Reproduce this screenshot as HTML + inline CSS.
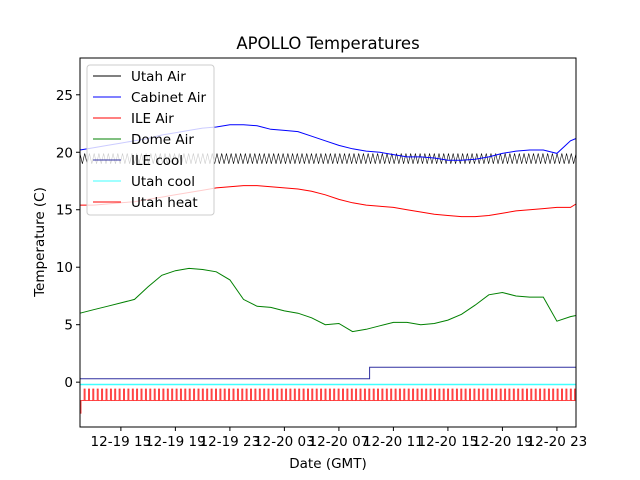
<!DOCTYPE html>
<html><head><meta charset="utf-8"><style>
body{margin:0;background:#fff}
svg{display:block;font-family:"DejaVu Sans","Liberation Sans",sans-serif}
</style></head><body>
<svg id="chart" width="640" height="480" xmlns="http://www.w3.org/2000/svg">
<rect width="640" height="480" fill="#fff"/>
<text x="328" y="49" font-size="16.5" text-anchor="middle">APOLLO Temperatures</text>
<g id="plot"></g>
<g id="axes"></g>
<text x="328" y="468" font-size="13.5" text-anchor="middle">Date (GMT)</text>
<text transform="translate(44,242) rotate(-90)" font-size="13.5" text-anchor="middle">Temperature (C)</text>
<g id="legend"></g>
</svg>
<script>
// hours since 12-19 00:00, one point per hour from 12 to 48, plus end 48.4
const hours = [12,13,14,15,16,17,18,19,20,21,22,23,24,25,26,27,28,29,30,31,32,33,34,35,36,37,38,39,40,41,42,43,44,45,46,47,48,48.4];
const cabinetAir = [20.2,20.4,20.6,20.8,21.0,21.2,21.5,21.7,21.9,22.1,22.2,22.4,22.4,22.3,22.0,21.9,21.8,21.4,21.0,20.6,20.3,20.1,20.0,19.8,19.6,19.6,19.5,19.3,19.3,19.4,19.6,19.9,20.1,20.2,20.2,19.9,21.0,21.2];
const ileAir = [15.4,15.4,15.5,15.6,15.7,15.9,16.1,16.3,16.5,16.7,16.9,17.0,17.1,17.1,17.0,16.9,16.8,16.6,16.3,15.9,15.6,15.4,15.3,15.2,15.0,14.8,14.6,14.5,14.4,14.4,14.5,14.7,14.9,15.0,15.1,15.2,15.2,15.5];
const domeAir = [6.0,6.3,6.6,6.9,7.2,8.3,9.3,9.7,9.9,9.8,9.6,8.9,7.2,6.6,6.5,6.2,6.0,5.6,5.0,5.1,4.4,4.6,4.9,5.2,5.2,5.0,5.1,5.4,5.9,6.7,7.6,7.8,7.5,7.4,7.4,5.3,5.7,5.8];
const utahAirHigh = [19.9];
const utahAirLow = [19.0];
const utahAirCycles = [105];
const ileCoolTimes = [12,33.25,33.25,48.4];
const ileCoolVals = [0.3,0.3,1.3,1.3];
const utahCool = [-0.2];
const utahHeatOff = [-1.6];
const utahHeatOn = [-0.6];
const heatPulses = [113];
const yTicks = [0,5,10,15,20,25];
const xTickHours = [15,19,23,27,31,35,39,43,47];
const xTickLabels = ["12-19 15","12-19 19","12-19 23","12-20 03","12-20 07","12-20 11","12-20 15","12-20 19","12-20 23"];
const legendLabels = ["Utah Air","Cabinet Air","ILE Air","Dome Air","ILE cool","Utah cool","Utah heat"];
const legendColors = ["#000","#0000ff","#ff0000","#008000","#3030a0","#40ffff","#ff0000"];

const NS="http://www.w3.org/2000/svg";
const L=80,R=576,T=58,B=427;
const X0=12,X1=48.4,Y0=-3.9,Y1=28.2;
const xs=h=>L+(h-X0)/(X1-X0)*(R-L);
const ys=v=>B-(v-Y0)/(Y1-Y0)*(B-T);
function mk(tag,attrs,parent){const e=document.createElementNS(NS,tag);for(const k in attrs)e.setAttribute(k,attrs[k]);parent.appendChild(e);return e;}
const plot=document.getElementById('plot'),axes=document.getElementById('axes'),leg=document.getElementById('legend');
function pathOf(tx,vy){return tx.map((t,i)=>(i?'L':'M')+xs(t).toFixed(1)+','+ys(vy[i]).toFixed(1)).join('');}

// Utah Air zigzag
{let d='';const n=utahAirCycles[0];for(let i=0;i<=n*2;i++){const h=X0+(X1-X0)*i/(n*2);const v=i%2?utahAirLow[0]:utahAirHigh[0];d+=(i?'L':'M')+xs(h).toFixed(2)+','+ys(v).toFixed(1);}
const p=mk('path',{d:d,fill:'none',stroke:'#000','stroke-width':0.6},plot);

}
let p;
p=mk('path',{d:pathOf(hours,cabinetAir),fill:'none',stroke:'#0000ff','stroke-width':1},plot);


p=mk('path',{d:pathOf(hours,ileAir),fill:'none',stroke:'#ff0000','stroke-width':1},plot);


p=mk('path',{d:pathOf(hours,domeAir),fill:'none',stroke:'#008000','stroke-width':1},plot);


p=mk('path',{d:pathOf(ileCoolTimes,ileCoolVals),fill:'none',stroke:'#3030a0','stroke-width':1},plot);


p=mk('line',{x1:L,x2:R,y1:ys(utahCool[0]),y2:ys(utahCool[0]),stroke:'#40ffff','stroke-width':1.5},plot);


{let d='M'+L+','+ys(-2.7)+'L'+(L+1)+','+ys(-2.7)+'L'+(L+1)+','+ys(utahHeatOff[0]);const n=heatPulses[0];
for(let i=0;i<n;i++){const x=xs(X0+0.3+(X1-X0-0.4)*i/(n-1));d+='L'+x.toFixed(1)+','+ys(utahHeatOff[0]).toFixed(1)+'L'+x.toFixed(1)+','+ys(utahHeatOn[0]).toFixed(1)+'L'+(x+1).toFixed(1)+','+ys(utahHeatOn[0]).toFixed(1)+'L'+(x+1).toFixed(1)+','+ys(utahHeatOff[0]).toFixed(1);}
d+='L'+R+','+ys(utahHeatOff[0]);
p=mk('path',{d:d,fill:'none',stroke:'#ff3030','stroke-width':0.9},plot);

}

// axes
p=mk('rect',{x:L,y:T,width:R-L,height:B-T,fill:'none',stroke:'#000','stroke-width':1},axes);


yTicks.forEach(v=>{const y=ys(v);mk('line',{x1:L-4,x2:L,y1:y,y2:y,stroke:'#000'},axes);
const t=mk('text',{x:L-7,y:y+5,'font-size':13.5,'text-anchor':'end'},axes);t.textContent=v;

});
xTickHours.forEach((h,i)=>{const x=xs(h);mk('line',{x1:x,x2:x,y1:B,y2:B+4,stroke:'#000'},axes);
const t=mk('text',{x:x,y:B+19,'font-size':13.5,'text-anchor':'middle'},axes);t.textContent=xTickLabels[i];

});

// legend
p=mk('rect',{x:87,y:65,width:127,height:150,rx:3,fill:'rgba(255,255,255,0.8)',stroke:'#ccc'},leg);


legendLabels.forEach((lab,i)=>{const y=76+i*21;
mk('line',{x1:93,x2:121,y1:y,y2:y,stroke:legendColors[i],'stroke-width':1},leg);
const t=mk('text',{x:131,y:y+5,'font-size':13.5},leg);t.textContent=lab;

});
</script>
</body></html>
